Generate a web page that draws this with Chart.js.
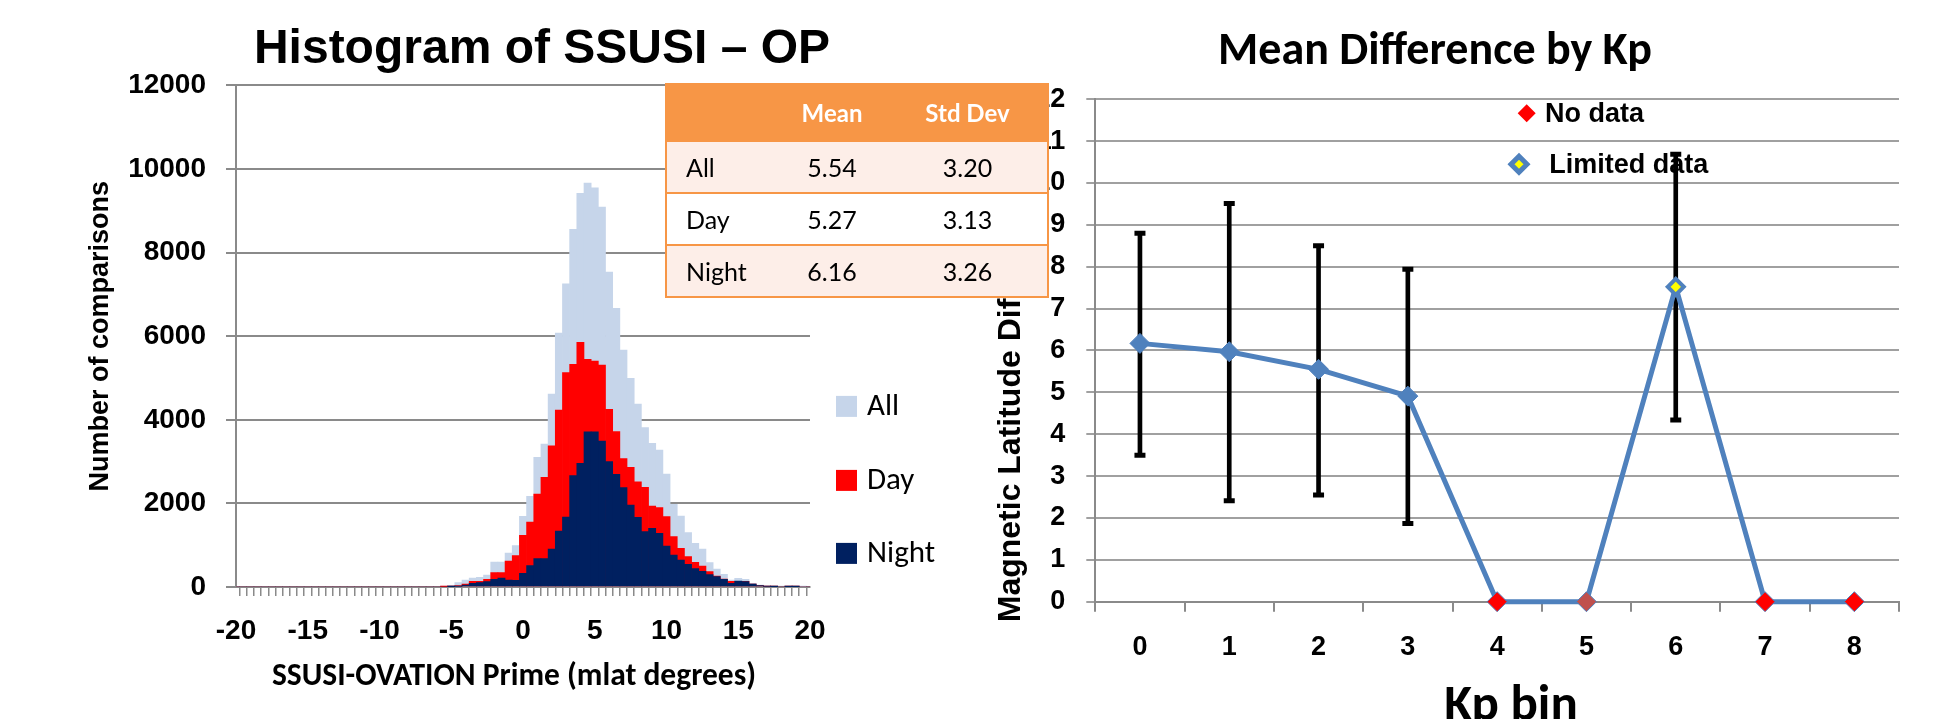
<!DOCTYPE html>
<html><head><meta charset="utf-8">
<script src="https://cdn.jsdelivr.net/npm/chart.js@4.4.1/dist/chart.umd.min.js"></script>
<style>
html,body{margin:0;padding:0;background:#fff;}
#wrap{position:relative;width:1954px;height:719px;overflow:hidden;background:#fff;}
#cL{position:absolute;left:0;top:0;}
#cR{position:absolute;left:916px;top:0;}
#stats{position:absolute;left:665px;top:83px;width:382px;border-collapse:collapse;table-layout:fixed;
  border:2px solid #F79646;font-family:Lato,sans-serif;font-size:25px;color:#000;z-index:5;}
#stats th{background:#F79646;color:#fff;font-weight:bold;font-size:24px;height:55px;padding:0;text-align:center;}
#stats td{height:50px;padding:0;text-align:center;border-top:2px solid #F79646;}
#stats td.lab{text-align:left;padding-left:19px;}
#stats tr.odd td{background:#FDEEE8;}
#stats tr.even td{background:#FFFFFF;}
</style></head>
<body>
<div id="wrap">
  <canvas id="cL" width="1084" height="719"></canvas>
  <canvas id="cR" width="1038" height="719"></canvas>
  <table id="stats"><colgroup><col style="width:110px"><col style="width:112px"><col style="width:160px"></colgroup><tbody id="statsBody"></tbody></table>
</div>
<script>
// ---------------- Histogram data ----------------
const binCenters = [-20,-19.5,-19,-18.5,-18,-17.5,-17,-16.5,-16,-15.5,-15,-14.5,-14,-13.5,-13,-12.5,-12,-11.5,-11,-10.5,
  -10,-9.5,-9,-8.5,-8,-7.5,-7,-6.5,-6,-5.5,-5,-4.5,-4,-3.5,-3,-2.5,-2,-1.5,-1,-0.5,
  0,0.5,1,1.5,2,2.5,3,3.5,4,4.5,5,5.5,6,6.5,7,7.5,8,8.5,9,9.5,
  10,10.5,11,11.5,12,12.5,13,13.5,14,14.5,15,15.5,16,16.5,17,17.5,18,18.5,19,19.5,20];
const countAll = [0,0,0,0,0,0,0,0,0,0, 0,0,0,0,0,0,0,0,0,0, 0,0,0,0,0,0,0,0,0,16,
  40,104,167,215,231,287,598,598,813,989,
  1690,2169,3102,3420,4616,6075,7255,8555,9416,9663,
  9552,9089,7535,6665,5669,4991,4377,3811,3440,3277,
  2703,1977,1698,1300,1044,909,582,431,303,167,
  207,183,88,48,16,8,24,16,16,16,0];
const countDay = [0,0,0,0,0,0,0,0,0,0, 0,0,0,0,0,0,0,0,0,0, 0,0,0,0,0,0,0,0,0,8,
  24,32,72,136,136,183,343,343,622,749,
  1236,1555,2224,2623,3380,4234,5127,5326,5852,5446,
  5406,5310,4250,3720,3070,2862,2519,2384,1937,1898,
  1682,1204,925,726,590,502,367,263,191,136,
  120,136,72,32,16,8,0,8,8,0,0];
const countNight = [0,0,0,0,0,0,0,0,0,0, 0,0,0,0,0,0,0,0,0,0, 0,0,0,0,0,0,0,0,0,0,
  8,16,48,88,104,128,183,215,167,159,
  327,510,678,678,909,1339,1674,2663,2958,3715,
  3715,3492,2998,2695,2376,1961,1666,1323,1403,1284,
  981,765,646,542,439,375,295,247,183,88,
  144,128,72,32,16,8,0,8,8,0,0];
const histSeriesNames = ['All','Day','Night'];
const xTickLabels = [-20,-15,-10,-5,0,5,10,15,20];
const yTickStepLeft = 2000;

// ---------------- Summary table data ----------------
const tableHeader = ['', 'Mean', 'Std Dev'];
const tableRows = ['All','Day','Night'];
const tableMeans = ['5.54','5.27','6.16'];
const tableStds = ['3.20','3.13','3.26'];

// ---------------- Kp data ----------------
const kpBins = ['0','1','2','3','4','5','6','7','8'];
const meanDiff = [6.17, 5.97, 5.55, 4.91, 0, 0, 7.52, 0, 0];
const errLow  = [3.50, 2.41, 2.55, 1.87, null, null, 4.34, null, null];
const errHigh = [8.80, 9.51, 8.50, 7.94, null, null, 10.69, null, null];
const kpLegendLabels = ['No data', 'Limited data'];

// ---------------- styles ----------------
const ARIAL = "'Liberation Sans', Arial, sans-serif";
const CALIBRI = "Calibri, Carlito, Lato, sans-serif";
const GREY = '#8A8A8A';
const histColors = ['#C6D5EA', '#FF0000', '#002060'];
const markerFill = ['#4F81BD','#4F81BD','#4F81BD','#4F81BD','#FF0000','#C0504D','#FFFF00','#FF0000','#FF0000'];
const markerRadius = [10,10,10,10,10,10,8,10,10];
const markerBorder = [1,1,1,1,1,1,4,1,1];

// table
(function(){
  const tb = document.getElementById('statsBody');
  let h = '<tr>' + tableHeader.map(t => '<th>' + t + '</th>').join('') + '</tr>';
  tableRows.forEach((r, i) => {
    h += '<tr class="' + (i % 2 === 0 ? 'odd' : 'even') + '"><td class="lab">' + r + '</td><td>' + tableMeans[i] + '</td><td>' + tableStds[i] + '</td></tr>';
  });
  tb.innerHTML = h;
})();

// free-positioned texts (chart and axis titles)
const freeText = {
  id: 'freeText',
  afterDraw(chart, args, opts) {
    const ctx = chart.ctx;
    (opts.items || []).forEach(it => {
      ctx.save();
      ctx.fillStyle = '#000'; ctx.textAlign = 'center'; ctx.textBaseline = 'middle';
      ctx.font = it.font;
      ctx.translate(it.x, it.y);
      if (it.rot) ctx.rotate(it.rot);
      ctx.fillText(it.text, 0, 0);
      ctx.restore();
    });
  }
};

// legend at the right of the histogram
const sideLegend = {
  id: 'sideLegend',
  afterDraw(chart) {
    const {ctx, chartArea: a} = chart;
    const offsets = [321, 395, 468];
    ctx.save();
    ctx.font = "31px " + CALIBRI;
    ctx.textBaseline = 'middle';
    ctx.textAlign = 'left';
    chart.data.datasets.forEach((ds, i) => {
      const cy = a.top + offsets[i];
      ctx.fillStyle = ds.backgroundColor;
      ctx.fillRect(a.right + 26, cy - 10.5, 21, 21);
      ctx.fillStyle = '#000';
      ctx.fillText(ds.label, a.right + 57, cy + 1);
    });
    ctx.restore();
  }
};

new Chart(document.getElementById('cL'), {
  type: 'bar',
  data: {
    labels: binCenters,
    datasets: [
      {label: histSeriesNames[0], data: countAll, backgroundColor: histColors[0], order: 3},
      {label: histSeriesNames[1], data: countDay, backgroundColor: histColors[1], order: 2},
      {label: histSeriesNames[2], data: countNight, backgroundColor: histColors[2], order: 1}
    ]
  },
  options: {
    responsive: false, animation: false, events: [],
    layout: {padding: {left: 0, top: 85.4, right: 274, bottom: 0}},
    datasets: {bar: {grouped: false, barPercentage: 1, categoryPercentage: 1, borderWidth: 0}},
    scales: {
      x: {
        type: 'linear', min: -20, max: 20, offset: false,
        afterBuildTicks: s => { s.ticks = binCenters.map(v => ({value: v})); },
        afterFit: s => { s.height = 132; },
        ticks: {autoSkip: false, maxRotation: 0, minRotation: 0, padding: 18, color: '#000',
          font: {family: ARIAL, weight: 'bold', size: 28},
          callback: v => xTickLabels.includes(v) ? String(v) : ''},
        grid: {drawOnChartArea: false, drawTicks: true, tickLength: 9, color: GREY, lineWidth: 1.5},
        border: {color: GREY, width: 2},
        title: {display: false, text: 'SSUSI-OVATION Prime (mlat degrees)'}
      },
      y: {
        min: 0, max: 12000,
        afterFit: s => { s.width = 236; },
        ticks: {stepSize: yTickStepLeft, padding: 20, color: '#000', font: {family: ARIAL, weight: 'bold', size: 28},
          callback: v => String(v)},
        grid: {color: GREY, lineWidth: 2, tickLength: 10},
        border: {color: GREY, width: 2},
        title: {display: true, text: 'Number of comparisons', color: '#000',
          font: {family: ARIAL, weight: 'bold', size: 27}, padding: {top: 84, bottom: 0}}
      }
    },
    plugins: {
      legend: {display: false}, tooltip: {enabled: false}, title: {display: false},
      freeText: {items: [
        {text: 'Histogram of SSUSI – OP', x: 542, y: 50, font: "bold 48px " + ARIAL},
        {text: 'SSUSI-OVATION Prime (mlat degrees)', x: 514, y: 677, font: "bold 31.5px " + CALIBRI}
      ]}
    }
  },
  plugins: [sideLegend, freeText]
});

// legend inside the Kp chart
function diamond(ctx, x, y, r, fill, stroke, lw) {
  ctx.beginPath();
  ctx.moveTo(x, y - r); ctx.lineTo(x + r, y); ctx.lineTo(x, y + r); ctx.lineTo(x - r, y); ctx.closePath();
  ctx.fillStyle = fill; ctx.fill();
  if (stroke && lw) { ctx.lineWidth = lw; ctx.strokeStyle = stroke; ctx.stroke(); }
}
const kpLegend = {
  id: 'kpLegend',
  beforeDatasetsDraw(chart) {
    const {ctx, chartArea: a} = chart;
    ctx.save();
    ctx.font = "bold 27px " + ARIAL;
    ctx.textBaseline = 'middle'; ctx.textAlign = 'left'; ctx.fillStyle = '#000';
    diamond(ctx, a.left + 431.4, a.top + 14, 9, '#FF0000', null, 0);
    ctx.fillStyle = '#000';
    ctx.fillText(kpLegendLabels[0], a.left + 449.7, a.top + 15);
    diamond(ctx, a.left + 423.7, a.top + 65, 8, '#FFFF00', '#4F81BD', 5);
    ctx.fillStyle = '#000';
    ctx.fillText(kpLegendLabels[1], a.left + 454, a.top + 66);
    ctx.restore();
  }
};

new Chart(document.getElementById('cR'), {
  type: 'bar',
  data: {
    labels: kpBins,
    datasets: [
      {type: 'line', label: 'Mean difference', data: meanDiff, borderColor: '#4F81BD', borderWidth: 5,
        tension: 0, pointStyle: 'rectRot', pointRadius: markerRadius, pointBackgroundColor: markerFill,
        pointBorderColor: '#4F81BD', pointBorderWidth: markerBorder, order: 0, clip: false},
      {type: 'line', label: 'Mean + 1 std', data: errHigh, showLine: false, pointStyle: 'line',
        pointRadius: 5.5, pointBorderWidth: 5, pointBorderColor: '#000', pointBackgroundColor: '#000', order: 1},
      {type: 'line', label: 'Mean - 1 std', data: errLow, showLine: false, pointStyle: 'line',
        pointRadius: 5.5, pointBorderWidth: 5, pointBorderColor: '#000', pointBackgroundColor: '#000', order: 1},
      {type: 'bar', label: 'Std dev range', data: kpBins.map((_, i) => errLow[i] == null ? null : [errLow[i], errHigh[i]]),
        backgroundColor: '#000', barThickness: 4, order: 2}
    ]
  },
  options: {
    responsive: false, animation: false, events: [],
    layout: {padding: {left: 0, top: 99.3, right: 55, bottom: 0}},
    scales: {
      x: {
        type: 'category', offset: true,
        afterFit: s => { s.height = 117.3; },
        ticks: {padding: 19.6, color: '#000', font: {family: ARIAL, weight: 'bold', size: 27}},
        grid: {offset: true, drawOnChartArea: false, tickLength: 10, color: GREY, lineWidth: 2},
        border: {color: GREY, width: 2},
        title: {display: false, text: 'Kp bin'}
      },
      y: {
        min: 0, max: 12,
        afterFit: s => { s.width = 179.3; },
        ticks: {stepSize: 1, padding: 21, color: '#000', font: {family: ARIAL, weight: 'bold', size: 27}},
        grid: {color: '#A0A0A0', lineWidth: 2, tickLength: 9},
        border: {color: GREY, width: 2},
        title: {display: false, text: 'Magnetic Latitude Difference (deg)'}
      }
    },
    plugins: {
      legend: {display: false}, tooltip: {enabled: false}, title: {display: false},
      freeText: {items: [
        {text: 'Mean Difference by Kp', x: 519, y: 52, font: "bold 46px " + CALIBRI},
        {text: 'Kp bin', x: 595, y: 707, font: "bold 51px " + CALIBRI},
        {text: 'Magnetic Latitude Difference (deg)', x: 95, y: 360, rot: -Math.PI / 2, font: "bold 32px " + ARIAL}
      ]}
    }
  },
  plugins: [kpLegend, freeText]
});
</script>
</body></html>
